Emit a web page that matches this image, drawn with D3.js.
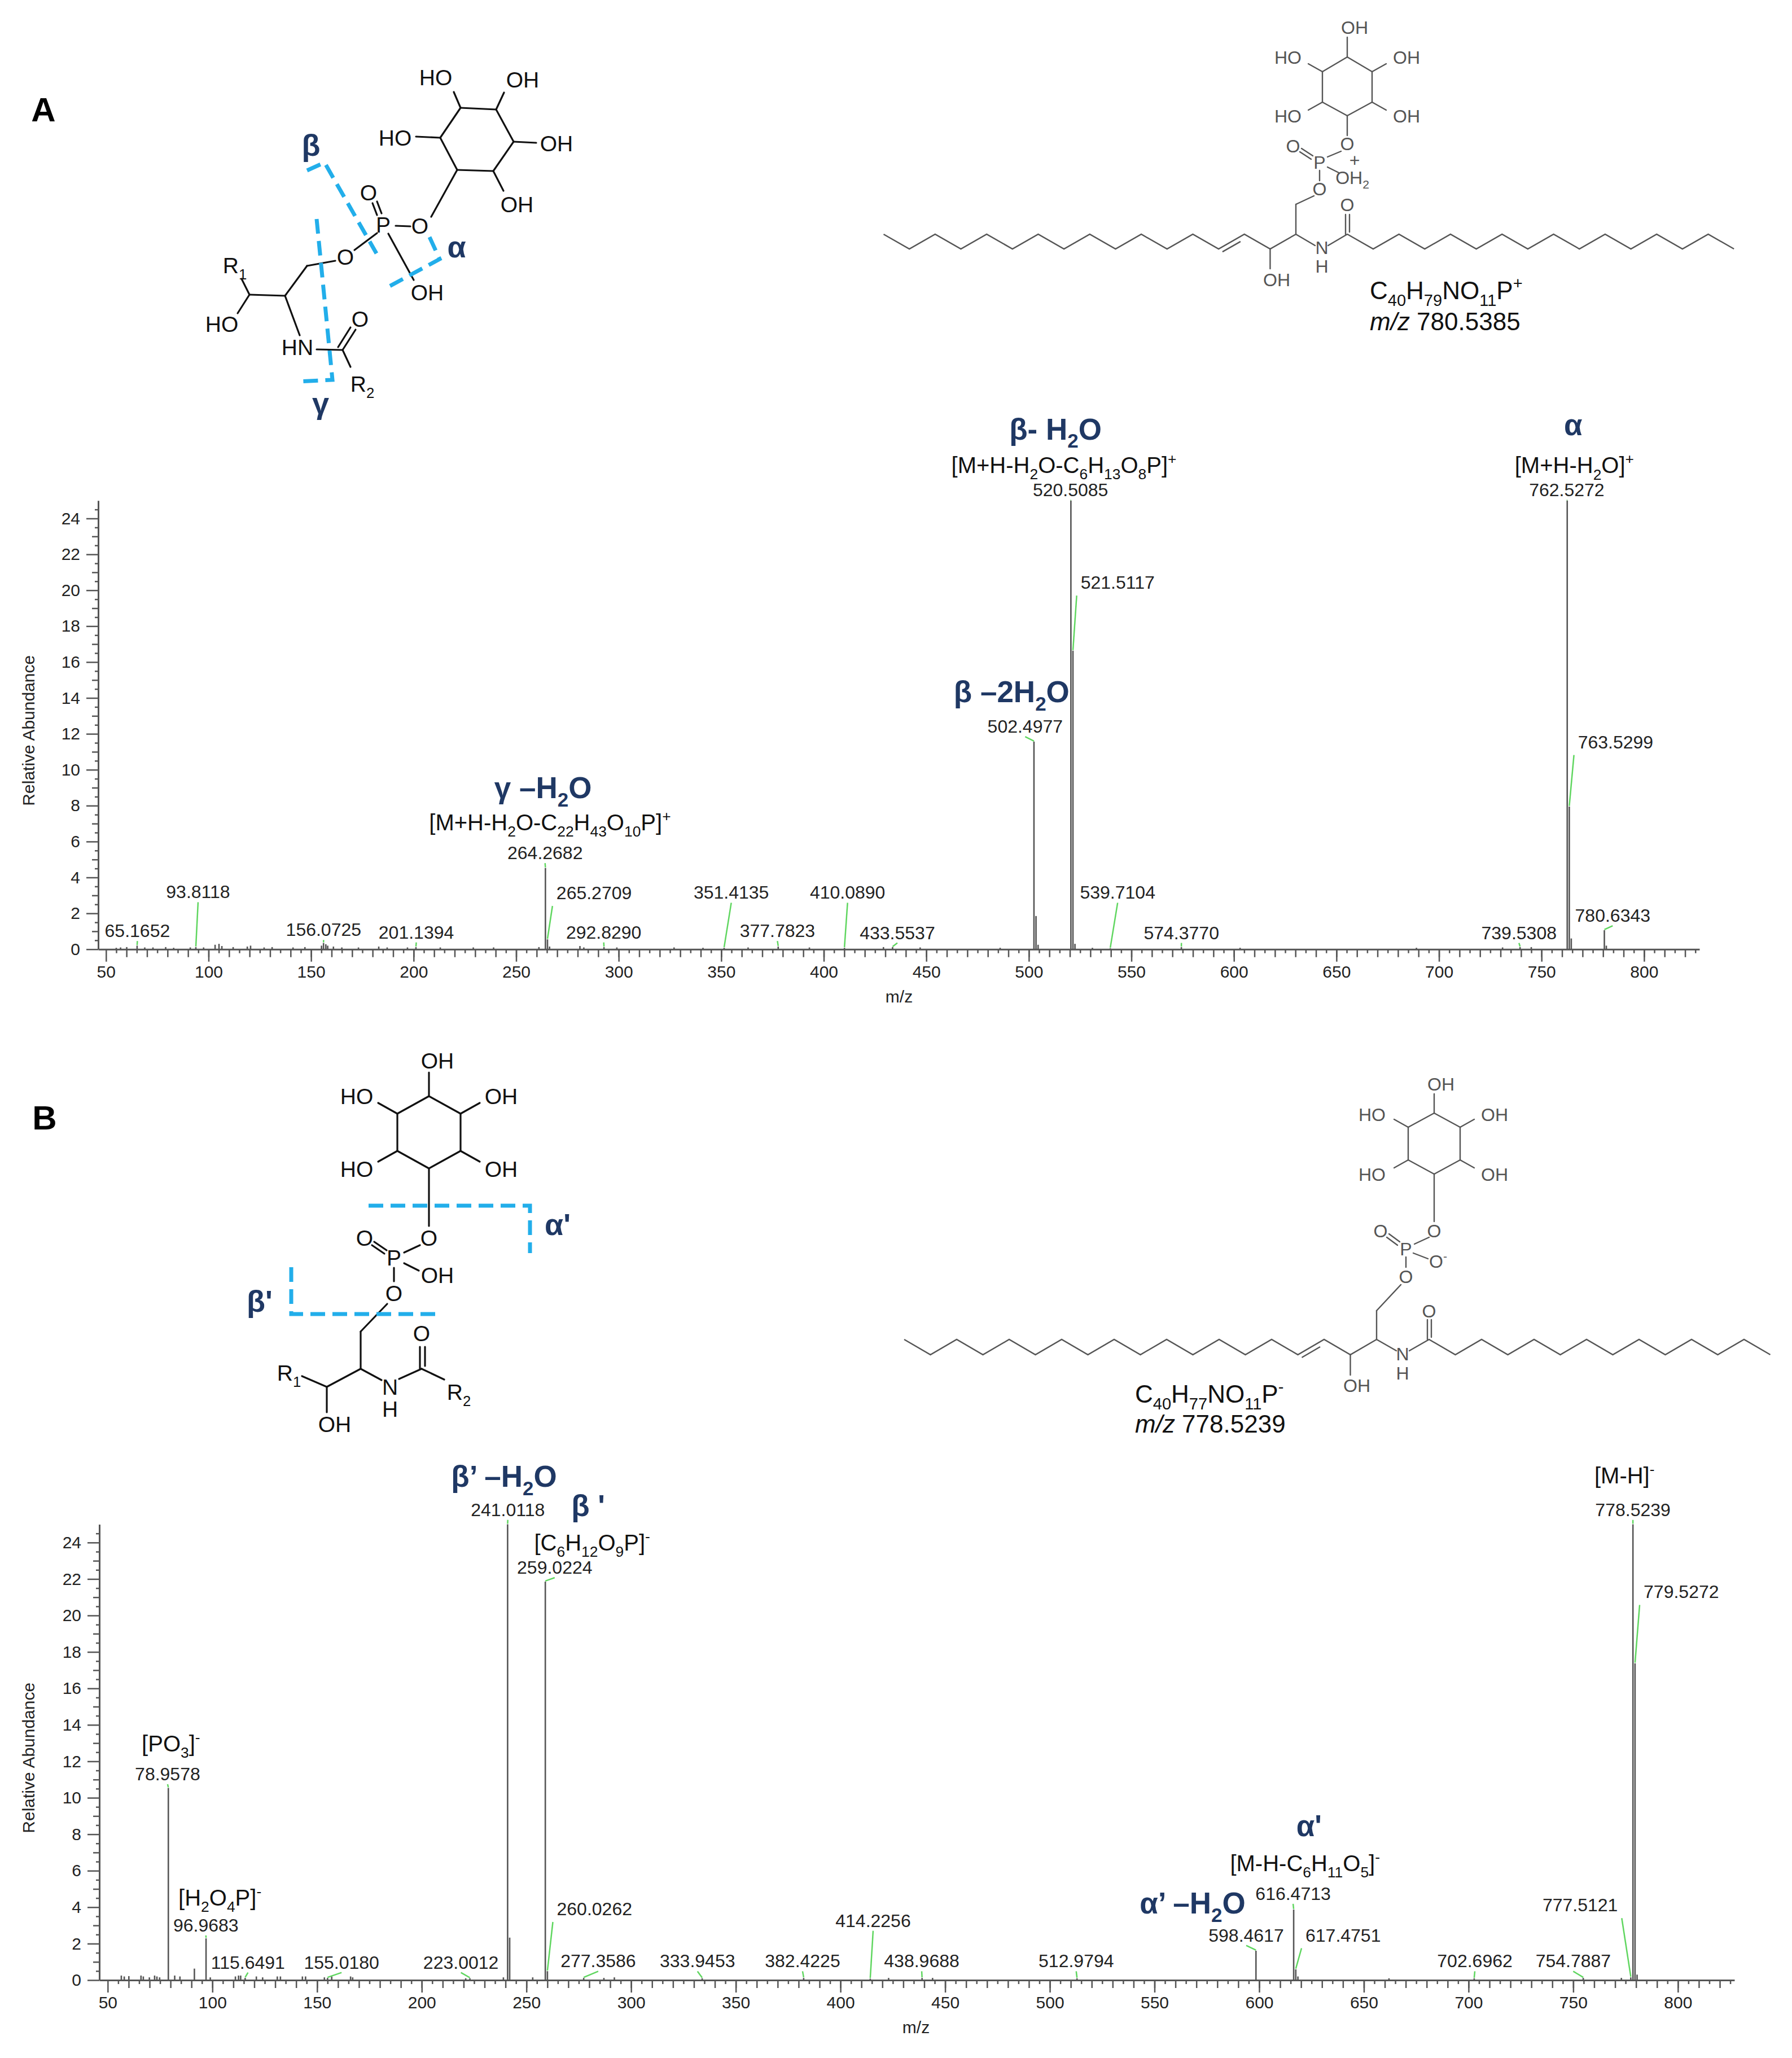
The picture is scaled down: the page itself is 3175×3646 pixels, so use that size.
<!DOCTYPE html>
<html lang="en">
<head>
<meta charset="utf-8">
<title>MS/MS spectra</title>
<script src="https://cdnjs.cloudflare.com/ajax/libs/d3/7.8.5/d3.min.js"></script>
<style>
  body { margin: 0; background: #fff; }
  svg text { font-family: "Liberation Sans", Arial, sans-serif; }
</style>
</head>
<body>
<svg id="fig" width="3175" height="3646"></svg>
<script>

// ---------- data, panel A (positive ion) ----------
// labelled peaks: [m/z, relative abundance]
var peaksA = [[65.1652,0.2],[93.8118,0.12],[156.0725,0.35],[201.1394,0.12],[264.2682,4.53],[265.2709,0.55],
  [292.8290,0.12],[351.4135,0.08],[377.7823,0.15],[410.0890,0.08],[433.5537,0.12],[502.4977,11.57],
  [520.5085,25],[521.5117,16.63],[539.7104,0.05],[574.3770,0.12],[739.5308,0.12],[762.5272,25],
  [763.5299,7.95],[780.6343,1.06]];
// where each peak label sits: [m/z, abundance] of the label baseline
var spotsA = [[65.3,0.68],[94.9,2.84],[156.1,0.74],[201.3,0.6],[264.1,5.02],[288.0,2.79],[292.7,0.6],
  [354.9,2.81],[377.4,0.68],[411.6,2.81],[435.9,0.57],[498.2,12.06],[520.3,25.24],[543.3,20.08],
  [543.3,2.81],[574.4,0.57],[739.0,0.57],[762.3,25.24],[786.1,11.2],[784.7,1.53]];
// unlabelled small peaks
var minorA = [[55,0.08],[57.1,0.1],[60.1,0.12],[68.9,0.1],[72.9,0.1],[79.1,0.12],[83.0,0.08],[91.1,0.1],
  [97.6,0.1],[103.2,0.25],[105.1,0.3],[106.5,0.18],[112.0,0.12],[118.9,0.15],[120.5,0.2],[127.1,0.1],
  [131.0,0.12],[141.2,0.1],[147.0,0.12],[155.1,0.2],[157.2,0.28],[158.1,0.2],[160.9,0.15],[165.0,0.1],
  [173.1,0.1],[183.0,0.15],[187.1,0.1],[197.0,0.1],[213.0,0.1],[229.1,0.1],[239.0,0.1],[261.1,0.12],
  [266.3,0.15],[281.1,0.18],[283.0,0.1],[299.1,0.1],[327.0,0.1],[341.1,0.08],[363.1,0.1],[393.0,0.1],
  [429.1,0.12],[447.0,0.1],[486.0,0.08],[503.5,1.85],[504.5,0.25],[522.5,0.3],[531.0,0.08],[603.0,0.08],
  [689.0,0.08],[731.0,0.1],[745.0,0.12],[764.5,0.6],[781.6,0.2]];
var fragA = ["γ –H_{2}O", "β- H_{2}O", "β –2H_{2}O", "α"];
var fragSpotA = [[263.1,8.42],[513.0,28.4],[491.6,13.76],[765.4,28.65]];
var ionA = ["[M+H-H_{2}O-C_{22}H_{43}O_{10}P]^{+}", "[M+H-H_{2}O-C_{6}H_{13}O_{8}P]^{+}", "[M+H-H_{2}O]^{+}"];
var ionSpotA = [[266.5,6.63],[517.1,26.53],[766.0,26.52]];

// ---------- data, panel B (negative ion) ----------
var peaksB = [[78.9578,10.54],[96.9683,2.29],[115.6491,0.12],[155.0180,0.12],[223.0012,0.1],[241.0118,25],
  [259.0224,21.86],[260.0262,0.49],[277.3586,0.12],[333.9453,0.1],[382.4225,0.12],[414.2256,0.08],
  [438.9688,0.12],[512.9794,0.1],[598.4617,1.61],[616.4713,3.87],[617.4751,0.59],[702.6962,0.1],
  [754.7887,0.12],[777.5121,0.15],[778.5239,25],[779.5272,17.38]];
var spotsB = [[78.6,10.96],[96.9,2.67],[117.0,0.63],[161.7,0.63],[218.7,0.63],[241.1,25.46],[263.5,22.29],
  [282.5,3.56],[284.3,0.7],[331.7,0.7],[381.9,0.7],[415.6,2.92],[438.8,0.7],[512.6,0.7],[593.8,2.12],
  [616.2,4.4],[640.1,2.12],[703.0,0.7],[750.0,0.7],[753.3,3.77],[778.5,25.46],[801.6,20.95]];
var minorB = [[56.5,0.25],[57.9,0.2],[60.1,0.22],[65.9,0.25],[67.0,0.2],[69.9,0.15],[72.4,0.25],[73.5,0.2],
  [74.8,0.15],[82.0,0.25],[84.5,0.2],[91.4,0.63],[99.0,0.15],[111.0,0.2],[112.5,0.25],[113.5,0.25],
  [121.0,0.2],[124.0,0.15],[131.0,0.2],[132.5,0.2],[143.0,0.2],[144.5,0.2],[153.5,0.15],[157.0,0.2],
  [166.0,0.2],[167.0,0.15],[221.0,0.1],[239.0,0.15],[242.0,2.33],[253.0,0.15],[287.0,0.12],[292.0,0.15],
  [423.0,0.12],[444.0,0.12],[618.5,0.2],[662.0,0.1],[773.0,0.12],[780.5,0.3]];
var fragB = ["β’ –H_{2}O", "β '", "α'", "α’ –H_{2}O"];
var fragSpotB = [[239.3,27.05],[279.5,25.46],[623.8,7.89],[568.2,3.66]];
var ionB = ["[PO_{3}]^{-}", "[H_{2}O_{4}P]^{-}", "[C_{6}H_{12}O_{9}P]^{-}", "[M-H-C_{6}H_{11}O_{5}]^{-}", "[M-H]^{-}"];
var ionSpotB = [[80.2,12.55],[103.6,4.08],[281.4,23.56],[621.9,5.99],[774.5,27.26]];

var yMajor = d3.range(0, 25, 2);
var xMajor = d3.range(50, 801, 50);

var NAVY = "#1f3864", CYAN = "#22aeea", GREEN = "#5fd65f", PEAK = "#555", AX = "#555";
var BOLD = "Lato, 'Noto Sans', sans-serif";

var svg = d3.select("#fig");
svg.append("rect").attr("width", 3175).attr("height", 3646).attr("fill", "#fff");

// text with _{sub} and ^{sup} parts
function rich(t, str, size) {
  var re = /([_^])\{([^}]*)\}|([^_^]+)/g, m, shift = 0;
  while ((m = re.exec(str)) !== null) {
    if (m[3] !== undefined) {
      t.append("tspan").attr("dy", -shift).attr("font-size", size).text(m[3]);
      shift = 0;
    } else {
      var s = m[1] === "_" ? size * 0.28 : -size * 0.4;
      t.append("tspan").attr("dy", s - shift).attr("font-size", size * 0.66).text(m[2]);
      shift = s;
    }
  }
  return t;
}

function spectrum(cfg) {
  var x = d3.scaleLinear().domain(cfg.dom).range(cfg.xr);
  var y = d3.scaleLinear().domain([0, 25]).range(cfg.yr);
  var g = svg.append("g");
  var y0 = y(0), x0 = cfg.xr[0];

  // x ticks in three lengths
  [[d3.range(55, 826, 10), 7], [d3.range(60, 826, 10), 14], [xMajor, 22]].forEach(function (lv, i) {
    var ax = d3.axisBottom(x).tickValues(lv[0]).tickSize(lv[1]).tickSizeOuter(0);
    if (i < 2) ax.tickFormat(""); else ax.tickPadding(7).tickFormat(d3.format("d"));
    var a = g.append("g").attr("transform", "translate(0," + y0 + ")").call(ax);
    a.attr("font-size", 30).attr("font-family", "'Liberation Sans', Arial, sans-serif");
    a.selectAll("line").attr("stroke", AX).attr("stroke-width", 2.5);
    a.selectAll("text").attr("fill", "#222");
    if (i < 2) a.select(".domain").remove();
    else a.select(".domain").attr("stroke", AX).attr("stroke-width", 3);
  });
  // y ticks in three lengths
  [[d3.range(0.5, 25, 1), 6], [d3.range(1, 25, 2), 11], [yMajor, 21]].forEach(function (lv, i) {
    var ax = d3.axisLeft(y).tickValues(lv[0]).tickSize(lv[1]).tickSizeOuter(0);
    if (i < 2) ax.tickFormat(""); else ax.tickPadding(11).tickFormat(d3.format("d"));
    var a = g.append("g").attr("transform", "translate(" + x0 + ",0)").call(ax);
    a.attr("font-size", 30).attr("font-family", "'Liberation Sans', Arial, sans-serif");
    a.selectAll("line").attr("stroke", AX).attr("stroke-width", 2.5);
    a.selectAll("text").attr("fill", "#222");
    if (i < 2) a.select(".domain").remove();
    else a.select(".domain").attr("stroke", AX).attr("stroke-width", 3);
  });

  // sticks
  g.append("g").selectAll("line").data(cfg.minor.concat(cfg.peaks)).join("line")
    .attr("x1", function (d) { return x(d[0]); }).attr("x2", function (d) { return x(d[0]); })
    .attr("y1", y0).attr("y2", function (d) { return y(d[1]); })
    .attr("stroke", PEAK).attr("stroke-width", 2.6);

  // peak labels with green leaders
  cfg.peaks.forEach(function (p, i) {
    var s = cfg.spots[i], lx = x(s[0]), ly = y(s[1]);
    var t = g.append("text").attr("x", lx).attr("y", ly).attr("text-anchor", "middle")
      .attr("font-size", 32).attr("fill", "#222").text(p[0].toFixed(4));
    var w = t.node().getComputedTextLength();
    var px = x(p[0]), sx, sy;
    if (px >= lx - w / 2 && px <= lx + w / 2) { sx = lx; sy = ly + 7; }
    else if (px < lx - w / 2) { sx = lx - w / 2 - 7; sy = ly + 12; }
    else { sx = lx + w / 2 + 7; sy = ly + 12; }
    g.append("line").attr("x1", sx).attr("y1", sy).attr("x2", px).attr("y2", Math.max(sy, y(p[1]) - 1))
      .attr("stroke", GREEN).attr("stroke-width", 2.5);
  });

  // fragment names and ion formulas
  cfg.frag.forEach(function (f, i) {
    var s = cfg.fragSpot[i];
    rich(g.append("text").attr("x", x(s[0])).attr("y", y(s[1])).attr("text-anchor", "middle")
      .attr("font-family", BOLD).attr("font-weight", 700).attr("fill", NAVY), f, 53);
  });
  cfg.ion.forEach(function (f, i) {
    var s = cfg.ionSpot[i];
    rich(g.append("text").attr("x", x(s[0])).attr("y", y(s[1])).attr("text-anchor", "middle")
      .attr("fill", "#111"), f, 40);
  });

  // axis titles
  g.append("text").attr("x", cfg.mzX).attr("y", y0 + 94).attr("text-anchor", "middle")
    .attr("font-size", 30).attr("fill", "#222").text("m/z");
  var cy = (cfg.yr[0] + cfg.yr[1]) / 2 + 10;
  g.append("text").attr("transform", "translate(61," + cy + ") rotate(-90)").attr("text-anchor", "middle")
    .attr("font-size", 30).attr("fill", "#222").text("Relative Abundance");
}

spectrum({ dom: [46.2, 827], xr: [174, 3011], yr: [1681.7, 886.7], peaks: peaksA, spots: spotsA,
  minor: minorA, frag: fragA, fragSpot: fragSpotA, ion: ionA, ionSpot: ionSpotA, mzX: 1593 });
spectrum({ dom: [46, 827], xr: [176, 3073], yr: [3508, 2700.5], peaks: peaksB, spots: spotsB,
  minor: minorB, frag: fragB, fragSpot: fragSpotB, ion: ionB, ionSpot: ionSpotB, mzX: 1623 });

// ---------- structure drawings ----------
function mol(bonds, atoms, o) {
  var g = svg.append("g");
  g.selectAll("line").data(bonds).join("line")
    .attr("x1", function (d) { return d[0]; }).attr("y1", function (d) { return d[1]; })
    .attr("x2", function (d) { return d[2]; }).attr("y2", function (d) { return d[3]; })
    .attr("stroke", o.color).attr("stroke-width", o.width).attr("stroke-linecap", "round");
  atoms.forEach(function (a) {
    rich(g.append("text").attr("x", a[1]).attr("y", a[2] + o.size * 0.36).attr("text-anchor", "middle")
      .attr("fill", o.color).attr("font-family", o.font), a[0], o.size);
  });
  return g;
}
function zig(x0, step, n, yTop, yBot) {
  return d3.range(n + 1).map(function (i) { return [x0 + i * step, i % 2 ? yBot : yTop]; });
}
function chain(pts, dbl, o) {
  var g = svg.append("g");
  g.append("path").attr("d", d3.line()(pts)).attr("fill", "none").attr("stroke", o.color)
    .attr("stroke-width", o.width).attr("stroke-linejoin", "miter");
  if (dbl < 0) return;
  var a = pts[dbl], b = pts[dbl + 1];
  var dx = b[0] - a[0], dy = b[1] - a[1];
  g.append("line").attr("x1", a[0] + dx * 0.15).attr("y1", a[1] + dy * 0.15 + 9)
    .attr("x2", a[0] + dx * 0.85).attr("y2", a[1] + dy * 0.85 + 9)
    .attr("stroke", o.color).attr("stroke-width", o.width);
}
function cuts(paths, labels) {
  var g = svg.append("g");
  paths.forEach(function (p) {
    g.append("path").attr("d", d3.line()(p)).attr("fill", "none").attr("stroke", CYAN)
      .attr("stroke-width", 7).attr("stroke-dasharray", "26 13");
  });
  labels.forEach(function (l) {
    g.append("text").attr("x", l[1]).attr("y", l[2]).attr("text-anchor", "middle").attr("font-family", BOLD)
      .attr("font-weight", 700).attr("font-size", 54).attr("fill", NAVY).text(l[0]);
  });
}

var blackMol = { color: "#111", width: 3.2, size: 39, font: "'Liberation Sans', Arial, sans-serif" };
var greyMol = { color: "#555", width: 2.4, size: 32, font: "'Liberation Sans', Arial, sans-serif" };

// panel letters
svg.append("text").attr("x", 77).attr("y", 215).attr("text-anchor", "middle").attr("font-weight", 700)
  .attr("font-size", 60).text("A");
svg.append("text").attr("x", 79).attr("y", 2001).attr("text-anchor", "middle").attr("font-weight", 700)
  .attr("font-size", 60).text("B");

// A, fragmentation scheme
mol([[816,191,879,194],[879,194,910,251],[910,251,874,303],[874,303,810,301],[810,301,780,244],[780,244,816,191],
  [816,191,804,163],[879,194,893,164],[780,244,737,242],[910,251,950,253],[874,303,892,338],[810,301,764,384],
  [701,400,727,401],[668,381,660,360],[676,378,668,357],[688,414,733,496],[668,413,628,443],
  [594,462,544,471],[544,471,505,524],[505,524,442,522],[442,522,428,494],[442,522,421,555],[505,524,531,594],
  [561,619,607,620],[607,620,630,584],[599,615,621,580],[607,620,621,650]],
  [["HO",772,137],["OH",926,141],["HO",700,244],["OH",986,254],["OH",916,362],["O",744,400],["P",679,398],
   ["O",653,341],["OH",757,518],["O",612,455],["R_{1}",416,470],["HO",393,574],["HN",527,615],["O",638,565],
   ["R_{2}",642,680]], blackMol);
cuts([[[544,302],[575,288],[667,449]], [[761,420],[779,459],[681,512]], [[561,388],[589,673],[526,676]]],
  [["β",551,276],["α",809,456],["γ",568,733]]);

// A, full structure
mol([[2387,101,2431,127],[2431,127,2431,181],[2431,181,2387,205],[2387,205,2343,181],[2343,181,2343,127],[2343,127,2387,101],
  [2387,101,2387,66],[2343,127,2318,113],[2431,127,2456,113],[2343,181,2318,195],[2431,181,2456,195],[2387,205,2387,240],
  [2376,268,2352,278],[2326,276,2306,263],[2323,282,2303,269],[2352,296,2372,306],[2338,302,2338,320],
  [2328,347,2296,362],[2296,362,2296,415],[2384,415,2384,380],[2391,411,2391,380],
  [2296,415,2330,435],[2353,435,2387,415],[2250.4,441,2250.4,476]],
  [["OH",2400,48],["HO",2282,101],["OH",2492,101],["HO",2282,205],["OH",2492,205],["O",2387,254],["P",2338,287],
   ["O",2291,258],["OH_{2}",2396,314],["+",2400,283],["O",2338,334],["N",2342,438],["H",2342,471],["O",2387,362],
   ["OH",2262,495]], greyMol);
chain(zig(1565.5, 45.66, 16, 415, 441), 13, greyMol);
chain(zig(2387.3, 45.66, 15, 415, 441), -1, greyMol);
var fa = svg.append("text").attr("x", 2427).attr("y", 530).attr("fill", "#111");
rich(fa, "C_{40}H_{79}NO_{11}P^{+}", 44);
var ma = svg.append("text").attr("x", 2427).attr("y", 585).attr("font-size", 44).attr("fill", "#111");
ma.append("tspan").attr("font-style", "italic").text("m/z");
ma.append("tspan").text(" 780.5385");

// B, fragmentation scheme
mol([[760,1942,816,1973],[816,1973,816,2039],[816,2039,760,2070],[760,2070,704,2039],[704,2039,704,1973],[704,1973,760,1942],
  [760,1942,760,1900],[704,1973,670,1954],[816,1973,850,1954],[704,2039,670,2058],[816,2039,850,2058],[760,2070,760,2172],
  [744,2206,716,2219],[685,2215,663,2200],[681,2221,659,2206],[716,2238,742,2251],[698,2246,698,2270],
  [686,2310,639,2359],[639,2359,639,2425],[639,2425,579,2457],[579,2457,535,2438],[579,2457,579,2502],
  [639,2425,676,2445],[707,2443,747,2425],[744,2425,744,2386],[753,2420,753,2386],[747,2425,787,2444]],
  [["OH",775,1879],["HO",632,1942],["OH",888,1942],["HO",632,2071],["OH",888,2071],["O",760,2193],["P",698,2228],
   ["O",646,2193],["OH",775,2259],["O",698,2291],["R_{1}",512,2432],["OH",593,2523],["N",691,2457],["H",691,2496],
   ["O",747,2362],["R_{2}",813,2466]], blackMol);
cuts([[[653,2136],[939,2136],[939,2220]], [[516,2245],[516,2328],[772,2328]]],
  [["α'",988,2188],["β'",460,2324]]);

// B, full structure
mol([[2541,1972,2587,1997],[2587,1997,2587,2055],[2587,2055,2541,2080],[2541,2080,2495,2055],[2495,2055,2495,1997],[2495,1997,2541,1972],
  [2541,1972,2541,1938],[2495,1997,2470,1983],[2587,1997,2612,1983],[2495,2055,2470,2069],[2587,2055,2612,2069],[2541,2080,2541,2164],
  [2532,2192,2506,2204],[2480,2200,2461,2186],[2476,2206,2457,2192],[2504,2220,2530,2230],[2491,2227,2491,2245],
  [2482,2276,2439,2322],[2439,2322,2439,2373],[2529,2373,2529,2338],[2536,2369,2536,2338],
  [2439,2373,2474,2393],[2497,2393,2532,2373],[2392.5,2400,2392.5,2436]],
  [["OH",2553,1920],["HO",2431,1974],["OH",2648,1974],["HO",2431,2080],["OH",2648,2080],["O",2541,2180],["P",2491,2212],
   ["O",2446,2180],["O^{-}",2548,2234],["O",2491,2261],["N",2485,2398],["H",2485,2432],["O",2532,2322],["OH",2404,2454]],
  greyMol);
chain(zig(1602, 46.5, 18, 2373, 2400), 15, greyMol);
chain(zig(2532, 46.5, 13, 2373, 2400), -1, greyMol);
var fb = svg.append("text").attr("x", 2011).attr("y", 2485).attr("fill", "#111");
rich(fb, "C_{40}H_{77}NO_{11}P^{-}", 44);
var mb = svg.append("text").attr("x", 2011).attr("y", 2538).attr("font-size", 44).attr("fill", "#111");
mb.append("tspan").attr("font-style", "italic").text("m/z");
mb.append("tspan").text(" 778.5239");

</script>
</body>
</html>
